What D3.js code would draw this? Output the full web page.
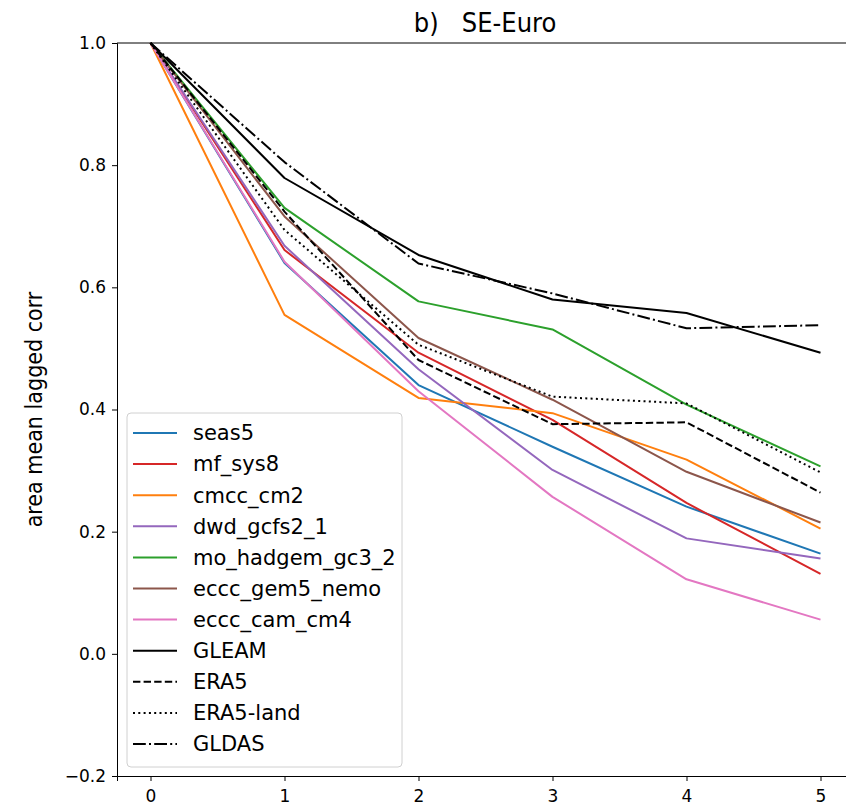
<!DOCTYPE html>
<html>
<head>
<meta charset="utf-8">
<script src="https://cdn.jsdelivr.net/npm/d3@7"></script>
<style>
  body { margin: 0; background: #fff; }
  svg text { fill: #000; }
</style>
</head>
<body>
<script>
// lags on the x axis
const lags = [0, 1, 2, 3, 4, 5];

// series names, in legend order
const names = ["seas5", "mf_sys8", "cmcc_cm2", "dwd_gcfs2_1", "mo_hadgem_gc3_2",
               "eccc_gem5_nemo", "eccc_cam_cm4", "GLEAM", "ERA5", "ERA5-land", "GLDAS"];

// values
const seas5        = [1.0, 0.640, 0.440, 0.339, 0.241, 0.164];
const mf_sys8      = [1.0, 0.661, 0.493, 0.383, 0.247, 0.131];
const cmcc_cm2     = [1.0, 0.555, 0.419, 0.394, 0.318, 0.205];
const dwd_gcfs2_1  = [1.0, 0.668, 0.466, 0.301, 0.189, 0.156];
const mo_hadgem    = [1.0, 0.730, 0.577, 0.531, 0.408, 0.307];
const eccc_gem5    = [1.0, 0.716, 0.517, 0.416, 0.298, 0.215];
const eccc_cam_cm4 = [1.0, 0.642, 0.430, 0.257, 0.122, 0.056];
const gleam        = [1.0, 0.779, 0.653, 0.580, 0.558, 0.493];
const era5         = [1.0, 0.724, 0.481, 0.376, 0.379, 0.264];
const era5_land    = [1.0, 0.694, 0.506, 0.421, 0.410, 0.297];
const gldas        = [1.0, 0.805, 0.639, 0.590, 0.533, 0.538];

const values = [seas5, mf_sys8, cmcc_cm2, dwd_gcfs2_1, mo_hadgem, eccc_gem5,
                eccc_cam_cm4, gleam, era5, era5_land, gldas];

const yTicks = [-0.2, 0.0, 0.2, 0.4, 0.6, 0.8, 1.0];

// colours and dash styles, matplotlib-like
const colors = ["#1f77b4", "#d62728", "#ff7f0e", "#9467bd", "#2ca02c", "#8c564b",
                "#e377c2", "#000", "#000", "#000", "#000"];
const dashes = [null, null, null, null, null, null, null,
                null, "7.4,3.2", "2,3.3", "12.8,3.2,2,3.2"];

const W = 846, H = 812;
const svg = d3.select("body").append("svg")
    .attr("width", W)
    .attr("height", H)
    .style("font-family", "'DejaVu Sans', sans-serif");

const x = d3.scaleLinear().domain([-0.25, 5.25]).range([117, 854]);
const y = d3.scaleLinear().domain([-0.2, 1.0]).range([776, 43]);

// lines
const line = d3.line()
    .x((d, i) => x(lags[i]))
    .y(d => y(d));

const plot = svg.append("g");
values.forEach((v, k) => {
    plot.append("path")
        .datum(v)
        .attr("d", line)
        .attr("fill", "none")
        .attr("stroke", colors[k])
        .attr("stroke-width", 2)
        .attr("stroke-dasharray", dashes[k])
        .attr("stroke-linejoin", "round");
});

// axes
const xAxis = svg.append("g")
    .attr("transform", "translate(0," + y(-0.2) + ")")
    .call(d3.axisBottom(x).tickValues(lags).tickFormat(d3.format("d")).tickSize(5).tickPadding(9));
const yAxis = svg.append("g")
    .attr("transform", "translate(" + x(-0.25) + ",0)")
    .call(d3.axisLeft(y).tickValues(yTicks).tickSize(5).tickPadding(6)
        .tickFormat(d => d3.format(".1f")(d).replace("-", "\u2212")));

[xAxis, yAxis].forEach(a => {
    a.selectAll("text").style("font-size", "17px").style("font-family", "'DejaVu Sans', sans-serif");
    a.selectAll("line").attr("stroke", "#000");
    a.select(".domain").attr("stroke", "#000");
});

// top spine
svg.append("line")
    .attr("x1", x(-0.25)).attr("x2", W)
    .attr("y1", y(1.0)).attr("y2", y(1.0))
    .attr("stroke", "#000");

// title and y label
svg.append("text")
    .attr("x", 485).attr("y", 32)
    .attr("text-anchor", "middle")
    .style("font-family", "'Liberation Sans Narrow', 'DejaVu Sans Condensed', sans-serif")
    .style("font-size", "27px")
    .style("white-space", "pre")
    .text("b)   SE-Euro");

svg.append("text")
    .attr("transform", "translate(42," + (y(-0.2) + y(1.0)) / 2 + ") rotate(-90)")
    .attr("text-anchor", "middle")
    .style("font-family", "'Liberation Sans Narrow', 'DejaVu Sans Condensed', sans-serif")
    .style("font-size", "23px")
    .text("area mean lagged corr");

// legend
const leg = svg.append("g");
leg.append("rect")
    .attr("x", 127).attr("y", 413)
    .attr("width", 275).attr("height", 354)
    .attr("rx", 4)
    .attr("fill", "#fff").attr("fill-opacity", 0.8)
    .attr("stroke", "#d0d0d0");

names.forEach((n, k) => {
    const cy = 433 + k * 31.1;
    leg.append("line")
        .attr("x1", 133).attr("x2", 177)
        .attr("y1", cy).attr("y2", cy)
        .attr("stroke", colors[k])
        .attr("stroke-width", 2)
        .attr("stroke-dasharray", dashes[k]);
    leg.append("text")
        .attr("x", 193).attr("y", cy)
        .attr("dy", "0.35em")
        .style("font-size", "21px")
        .text(n);
});
</script>
</body>
</html>
